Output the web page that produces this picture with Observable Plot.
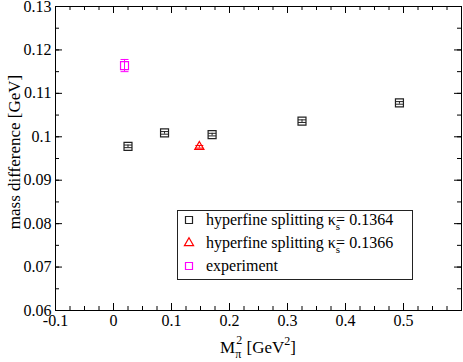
<!DOCTYPE html>
<html>
<head>
<meta charset="utf-8">
<script src="https://cdn.jsdelivr.net/npm/d3@7"></script>
<script src="https://cdn.jsdelivr.net/npm/@observablehq/plot@0.6"></script>
<style>
  html, body { margin: 0; padding: 0; background: white; }
  #chart svg { display: block; }
  #chart svg text { font-family: 'Liberation Serif', 'DejaVu Serif', serif !important; }
</style>
</head>
<body>
<div id="chart"></div>
<script>
// ---- data ----
const mpi2_k1364 = [0.025, 0.088, 0.170, 0.325, 0.493];
const dm_k1364   = [0.0978, 0.1009, 0.1005, 0.1036, 0.1078];
const err_k1364  = [0.0003, 0.0003, 0.0003, 0.0003, 0.0003];

const mpi2_k1366 = [0.148];
const dm_k1366   = [0.0977];
const err_k1366  = [0.0003];

const mpi2_exp = [0.019];
const dm_exp   = [0.1164];
const err_exp  = [0.0014];

const xMajorTicks = [-0.1, 0, 0.1, 0.2, 0.3, 0.4, 0.5, 0.6];
const xLabelTicks = [-0.1, 0, 0.1, 0.2, 0.3, 0.4, 0.5];
const xMinorTicks = d3.range(-0.1, 0.6001, 0.025).map(v => +v.toFixed(3));
const yMajorTicks = [0.06, 0.07, 0.08, 0.09, 0.10, 0.11, 0.12, 0.13];
const yMinorTicks = d3.range(0.06, 0.13001, 0.005).map(v => +v.toFixed(3));

const legendLabels = ["hyperfine splitting κ", "hyperfine splitting κ", "experiment"];
const legendKappa = ["0.1364", "0.1366", null];

// ---- build tables ----
const toRows = (xs, ys, es) => xs.map((x, i) => ({x, y: ys[i], lo: ys[i] - es[i], hi: ys[i] + es[i]}));
const s1 = toRows(mpi2_k1364, dm_k1364, err_k1364);
const s2 = toRows(mpi2_k1366, dm_k1366, err_k1366);
const s3 = toRows(mpi2_exp, dm_exp, err_exp);

const W = 463, H = 362, mL = 55, mR = 2, mT = 6, mB = 52;
const fw = W - mL - mR, fh = H - mT - mB;
const major = 7, minor = 4;
const FONT = "'Liberation Serif', 'DejaVu Serif', serif";

const cap = { draw(ctx, size) { const w = Math.sqrt(size) / 2; ctx.moveTo(-w, 0); ctx.lineTo(w, 0); } };
const fmt = d => String(+d.toFixed(3));

function errMarks(rows, color, r) {
  return [
    Plot.ruleX(rows, {x: "x", y1: "lo", y2: "hi", stroke: color, strokeWidth: 1}),
    Plot.dot(rows, {x: "x", y: "lo", symbol: cap, r, stroke: color, strokeWidth: 1}),
    Plot.dot(rows, {x: "x", y: "hi", symbol: cap, r, stroke: color, strokeWidth: 1})
  ];
}

const plot = Plot.plot({
  width: W, height: H,
  marginLeft: mL, marginRight: mR, marginTop: mT, marginBottom: mB,
  style: {fontFamily: FONT, fontSize: "16px", background: "white", color: "black"},
  x: {domain: [-0.1, 0.6]},
  y: {domain: [0.06, 0.13]},
  marks: [
    // tick labels
    Plot.axisX(xLabelTicks, {tickSize: 0, tickPadding: 4, tickFormat: fmt, label: null, fontSize: 16, fontFamily: FONT}),
    Plot.axisY(yMajorTicks, {tickSize: 0, tickPadding: 4, tickFormat: fmt, label: null, fontSize: 16, fontFamily: FONT}),
    // inward ticks, bottom/top
    Plot.tickX(xMinorTicks, {x: d => d, insetTop: fh - minor, stroke: "black"}),
    Plot.tickX(xMajorTicks, {x: d => d, insetTop: fh - major, stroke: "black"}),
    Plot.tickX(xMinorTicks, {x: d => d, insetBottom: fh - minor, stroke: "black"}),
    Plot.tickX(xMajorTicks, {x: d => d, insetBottom: fh - major, stroke: "black"}),
    // inward ticks, left/right
    Plot.tickY(yMinorTicks, {y: d => d, insetRight: fw - minor, stroke: "black"}),
    Plot.tickY(yMajorTicks, {y: d => d, insetRight: fw - major, stroke: "black"}),
    Plot.tickY(yMinorTicks, {y: d => d, insetLeft: fw - minor, stroke: "black"}),
    Plot.tickY(yMajorTicks, {y: d => d, insetLeft: fw - major, stroke: "black"}),
    // data
    ...errMarks(s1, "#222", 4.5),
    Plot.dot(s1, {x: "x", y: "y", symbol: "square", r: 4.5, stroke: "#222", strokeWidth: 1.2}),
    ...errMarks(s2, "red", 4.5),
    Plot.dot(s2, {x: "x", y: "y", symbol: "triangle", r: 3.4, stroke: "red", strokeWidth: 1.2}),
    ...errMarks(s3, "magenta", 4.5),
    Plot.dot(s3, {x: "x", y: "y", symbol: "square", r: 4.5, stroke: "magenta", strokeWidth: 1.2}),
    Plot.frame({stroke: "black", strokeWidth: 1})
  ]
});

document.getElementById("chart").appendChild(plot);

// ---- axis titles and legend (rich text with sub/superscripts) ----
const svg = d3.select(plot);
svg.selectAll("text").style("font-family", FONT);

svg.append("text")
  .attr("transform", "translate(14,152) rotate(-90)")
  .attr("text-anchor", "middle").attr("dy", "0.35em")
  .attr("font-family", FONT).attr("font-size", 17).attr("fill", "black")
  .text("mass difference [GeV]");

const xl = svg.append("text")
  .attr("x", 258).attr("y", 353).attr("text-anchor", "middle")
  .attr("font-family", FONT).attr("font-size", 17).attr("fill", "black");
xl.append("tspan").text("M");
xl.append("tspan").attr("dy", 5).attr("font-size", 12).text("π");
xl.append("tspan").attr("dx", -5).attr("dy", -14).attr("font-size", 12).text("2");
xl.append("tspan").attr("dy", 9).text(" [GeV");
xl.append("tspan").attr("dy", -8).attr("font-size", 12).text("2");
xl.append("tspan").attr("dy", 8).text("]");

// legend box
const lg = svg.append("g").attr("font-family", FONT).attr("font-size", 16).attr("text-anchor", "start");
lg.append("rect").attr("x", 177.5).attr("y", 210.5).attr("width", 235).attr("height", 69)
  .attr("fill", "white").attr("stroke", "#222").attr("stroke-width", 1);
const rowsY = [225, 248, 271];
const colors = ["#222", "red", "magenta"];
const symbols = [d3.symbolSquare, d3.symbolTriangle, d3.symbolSquare];
legendLabels.forEach((lab, i) => {
  lg.append("path")
    .attr("transform", `translate(189,${rowsY[i] - 5})`)
    .attr("d", d3.symbol(symbols[i], i === 1 ? 36 : 49)())
    .attr("fill", "none").attr("stroke", colors[i]).attr("stroke-width", 1.2);
  const t = lg.append("text").attr("x", 206).attr("y", rowsY[i]).attr("fill", "black").attr("text-anchor", "start");
  t.append("tspan").text(lab);
  if (legendKappa[i]) {
    t.append("tspan").attr("dy", 5).attr("font-size", 11).text("s");
    t.append("tspan").attr("dx", -4).attr("dy", -5).text("= " + legendKappa[i]);
  }
});
</script>
</body>
</html>
